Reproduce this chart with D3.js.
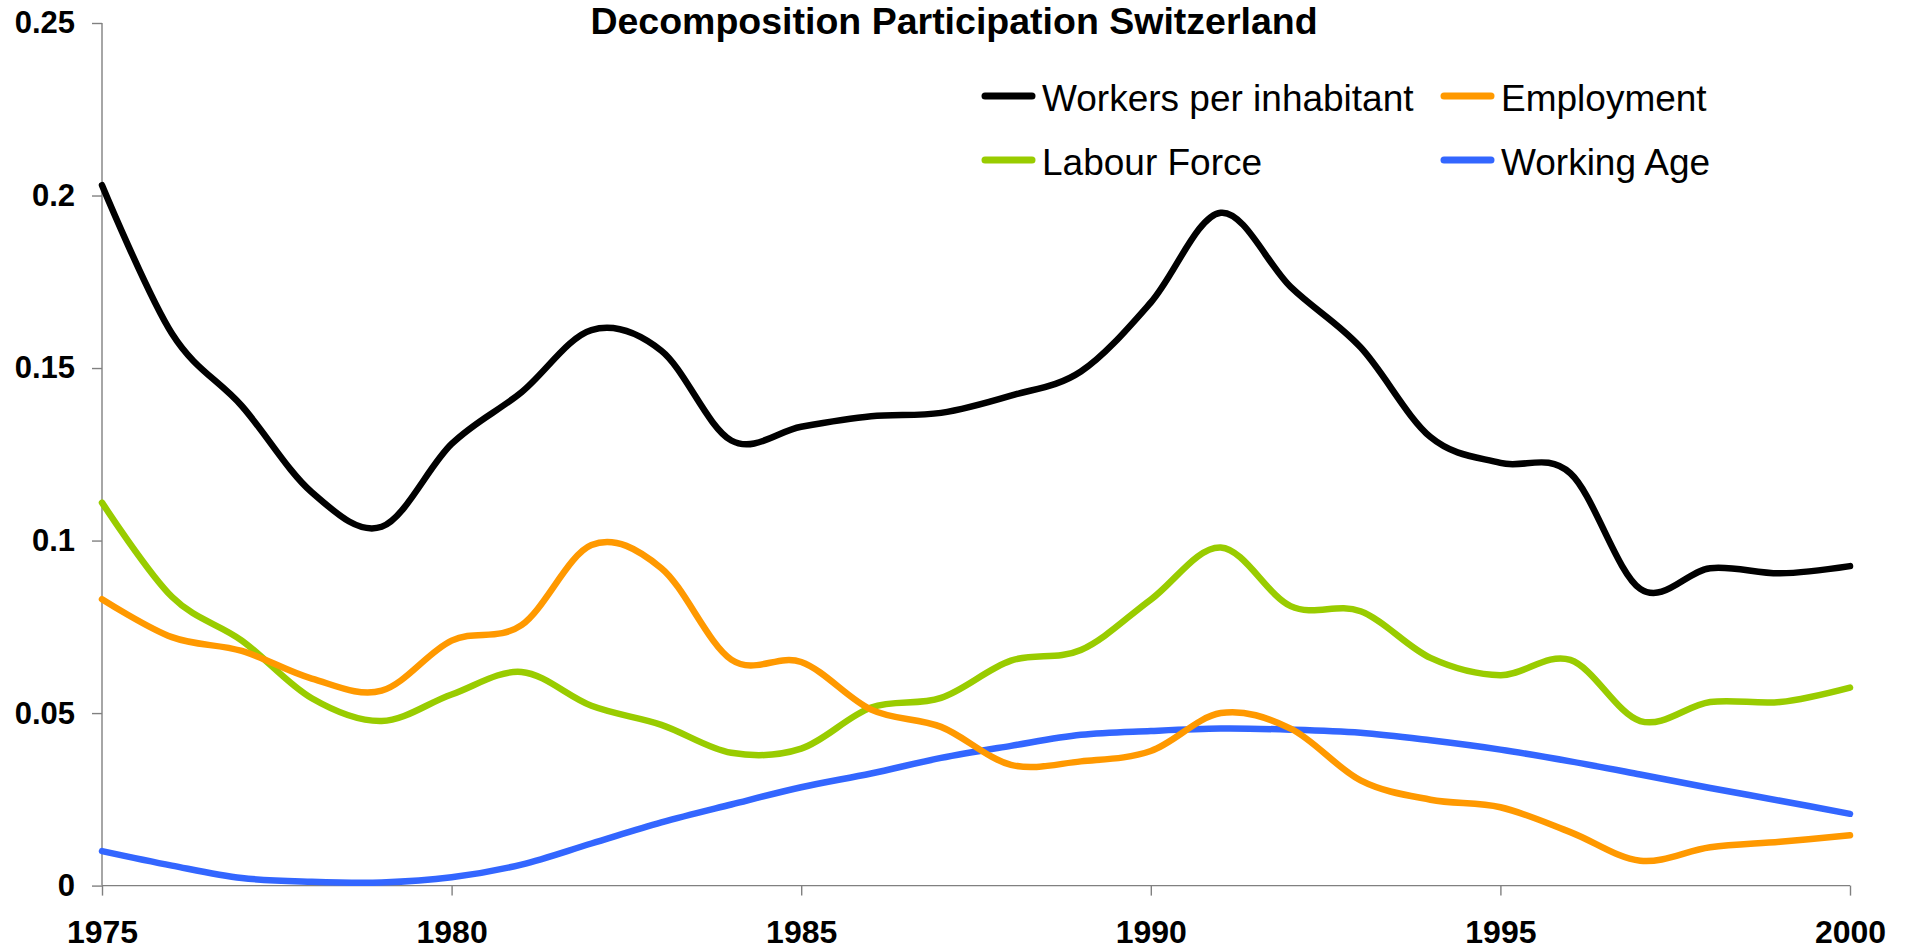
<!DOCTYPE html>
<html><head><meta charset="utf-8">
<script src="https://cdn.jsdelivr.net/npm/d3@7"></script>
<style>
html,body{margin:0;padding:0;background:#fff;}
svg{display:block;font-family:"Liberation Sans",Arial,sans-serif;}
</style></head>
<body><svg id="chart" width="1910" height="952"></svg>
<script>
const years = d3.range(1975, 2001);
const xTicks = [1975, 1980, 1985, 1990, 1995, 2000];
const yTicks = [0, 0.05, 0.1, 0.15, 0.2, 0.25];
const yTickLabels = ["0", "0.05", "0.1", "0.15", "0.2", "0.25"];
const seriesNames = ["Workers per inhabitant", "Employment", "Labour Force", "Working Age"];
const seriesColors = ["#000000", "#FF9900", "#99CC00", "#3366FF"];
const workers = [0.203, 0.160, 0.139, 0.114, 0.104, 0.128, 0.143, 0.161, 0.155, 0.129, 0.133, 0.136, 0.137, 0.142, 0.149, 0.169, 0.195, 0.1735, 0.156, 0.130, 0.1225, 0.1195, 0.086, 0.092, 0.0905, 0.0926];
const employment = [0.083, 0.072, 0.068, 0.060, 0.0565, 0.071, 0.0755, 0.0987, 0.092, 0.0655, 0.0648, 0.051, 0.046, 0.035, 0.036, 0.039, 0.050, 0.0455, 0.0305, 0.0249, 0.0227, 0.0155, 0.0072, 0.0111, 0.0127, 0.0146];
const labour = [0.111, 0.0837, 0.071, 0.0543, 0.0477, 0.0554, 0.0619, 0.0521, 0.0466, 0.0385, 0.0397, 0.0516, 0.0544, 0.0652, 0.0683, 0.0829, 0.098, 0.081, 0.0795, 0.066, 0.061, 0.0654, 0.0477, 0.0532, 0.0532, 0.0574];
const workingAge = [0.0100, 0.0058, 0.0022, 0.0011, 0.0009, 0.0024, 0.0061, 0.0122, 0.0183, 0.0235, 0.0285, 0.0325, 0.037, 0.0405, 0.0437, 0.0448, 0.0455, 0.0452, 0.0443, 0.0421, 0.0394, 0.036, 0.0322, 0.0283, 0.0246, 0.0208];
const seriesValues = [workers, employment, labour, workingAge];

const svg = d3.select("#chart");
const L = 102, R = 1850, T = 23, B = 885.6;
const x = d3.scaleLinear().domain([1975, 2000]).range([L, R]);
const y = d3.scaleLinear().domain([0, 0.25]).range([B, T]);

// axes
const yAxis = svg.append("g").attr("transform", `translate(${L},0)`)
  .call(d3.axisLeft(y).tickValues(yTicks).tickSize(10).tickPadding(17)
    .tickFormat((d, i) => yTickLabels[i]));
const xAxis = svg.append("g").attr("transform", `translate(0,${B})`)
  .call(d3.axisBottom(x).tickValues(xTicks).tickSize(10).tickPadding(25)
    .tickFormat(d3.format("d")));
[yAxis, xAxis].forEach(g => {
  g.selectAll("path.domain").attr("stroke", "#808080").attr("stroke-width", 1.4);
  g.selectAll(".tick line").attr("stroke", "#808080").attr("stroke-width", 1.4);
  g.selectAll("text").attr("fill", "#000").attr("font-family", "Liberation Sans, Arial, sans-serif")
    .attr("font-weight", "bold");
});
yAxis.selectAll("text").attr("font-size", 31);
xAxis.selectAll("text").attr("font-size", 32).attr("dy", "0.71em");
yAxis.select("path.domain").attr("d", `M0,${B}V${T}`);
xAxis.select("path.domain").attr("d", `M${L},0H${R}`);

// lines
const line = d3.line().x((d, i) => x(years[i])).y(d => y(d)).curve(d3.curveCardinal.tension(0));
const order = [3, 2, 1, 0];
order.forEach(k => {
  svg.append("path").datum(seriesValues[k])
    .attr("d", line).attr("fill", "none")
    .attr("stroke", seriesColors[k]).attr("stroke-width", 6.5)
    .attr("stroke-linejoin", "round").attr("stroke-linecap", "round");
});

// title
svg.append("text").attr("x", 954).attr("y", 34).attr("text-anchor", "middle")
  .attr("font-size", 37.5).attr("font-weight", "bold").attr("fill", "#000")
  .text("Decomposition Participation Switzerland");

// legend
const legPos = [[982, 96], [1441, 96], [982, 160], [1441, 160]];
seriesNames.forEach((name, i) => {
  const [lx, ly] = legPos[i];
  svg.append("line").attr("x1", lx + 3).attr("x2", lx + 50).attr("y1", ly).attr("y2", ly)
    .attr("stroke", seriesColors[i]).attr("stroke-width", 7).attr("stroke-linecap", "round");
  svg.append("text").attr("x", lx + 60).attr("y", ly + 15).attr("font-size", 37)
    .attr("fill", "#000").text(name);
});
</script></body></html>
